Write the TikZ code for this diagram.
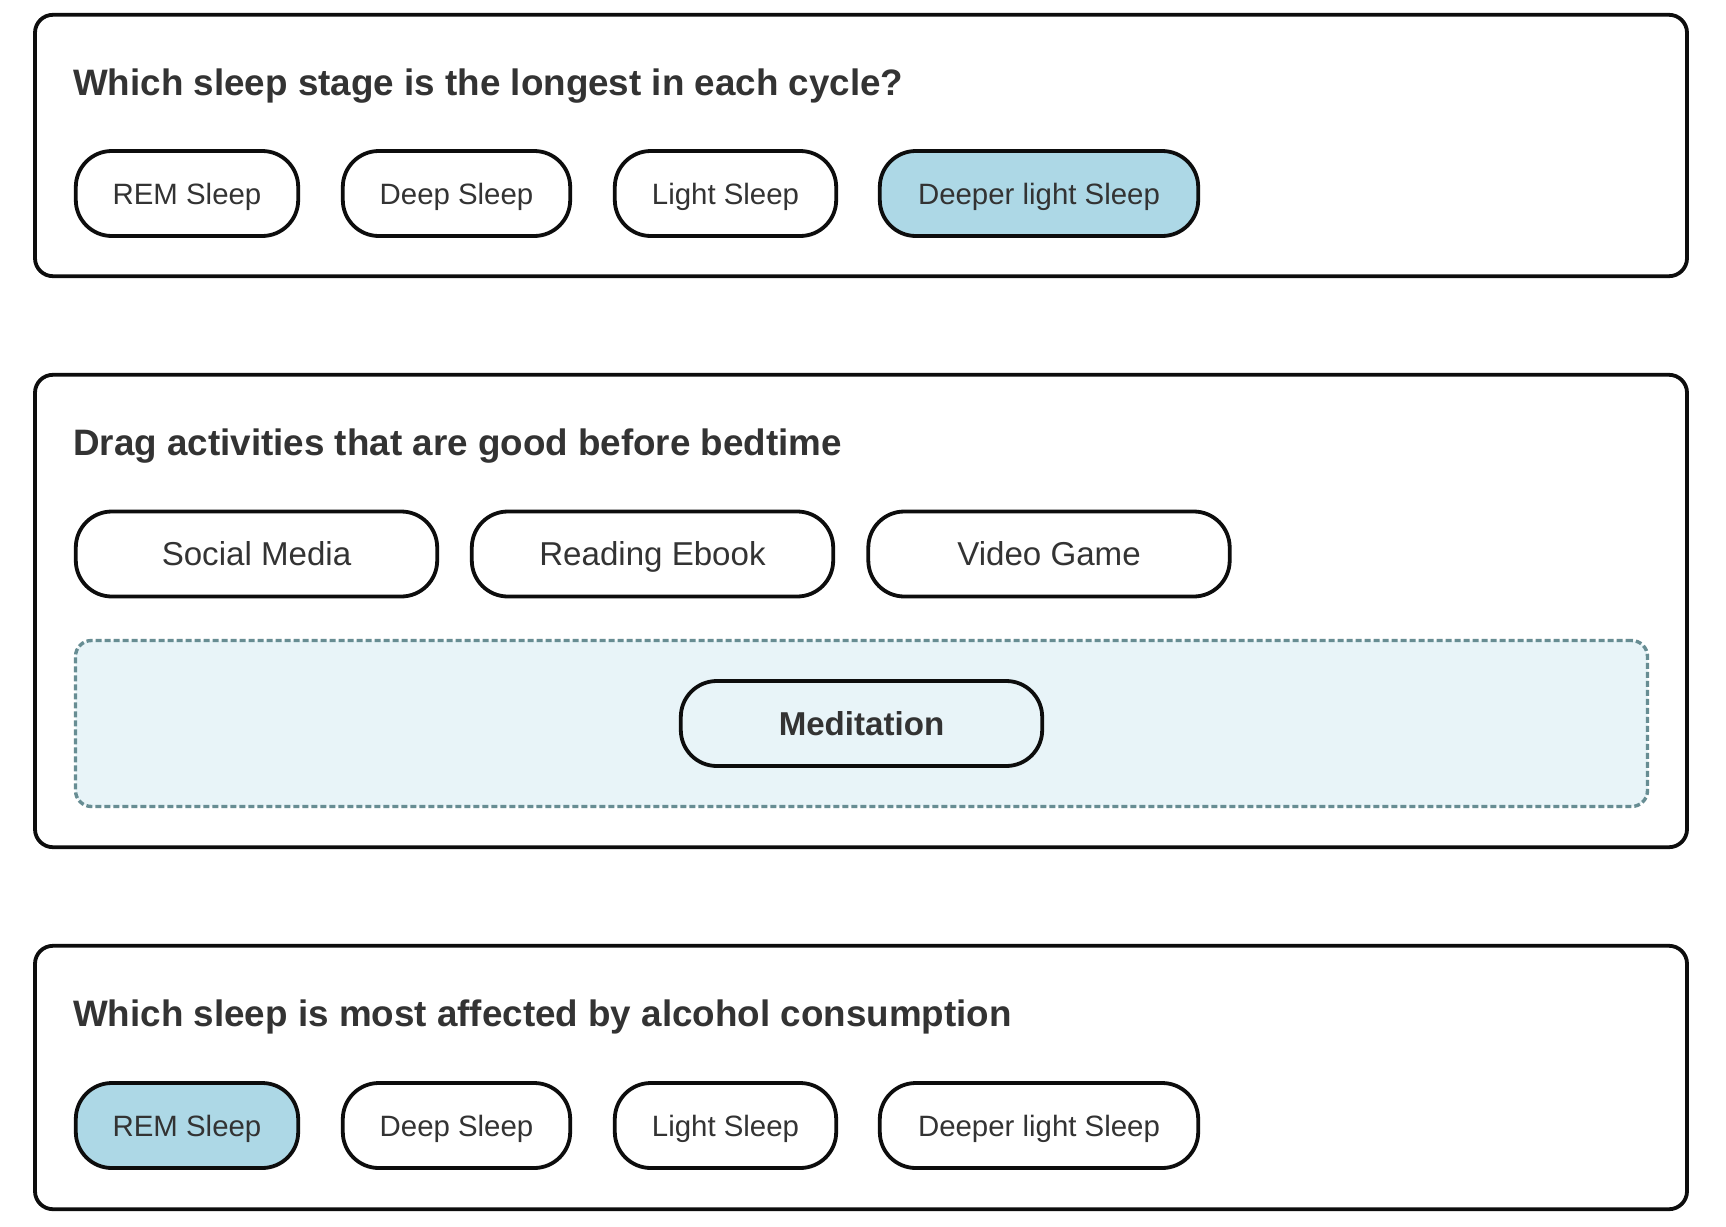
\documentclass[tikz,border=0pt]{standalone}
\usepackage{fontspec}
\setmainfont{Liberation Sans}
\usetikzlibrary{positioning,calc}
\definecolor{testo}{HTML}{333333}
\definecolor{selez}{HTML}{ADD8E6}
\definecolor{zona}{HTML}{E8F4F8}
\definecolor{bordozona}{HTML}{678D93}

\begin{document}
\begin{tikzpicture}[x=1pt,y=-1pt]
    % Stili
    \tikzset{
        card/.style={rectangle, draw=black!95, line width=3.8pt, rounded corners=18pt, minimum width=1652pt, inner sep=0pt},
        question/.style={anchor=base west, inner sep=0pt, text=testo, font=\fontsize{36.8}{44}\selectfont\bfseries},
        option/.style={rectangle, draw=black!95, line width=3.8pt, rounded corners=36pt, minimum height=85pt, inner sep=0pt, text=testo, text height=21pt, text depth=0pt, font=\fontsize{29.4}{35}\selectfont},
        activity/.style={option, minimum width=361.4pt, text height=23.7pt, font=\fontsize{33.1}{40}\selectfont},
        chosen/.style={fill=selez},
        dropzone/.style={rectangle, draw=bordozona, fill=zona, line width=3.4pt, dash pattern=on 6pt off 3pt, rounded corners=16pt, minimum width=1572pt, minimum height=166pt}
    }

    % Sfondo
    \fill[white] (0,0) rectangle (1726,1226);
    \useasboundingbox (0,0) rectangle (1726,1226);

    % Domanda 1
    \node[card, minimum height=261.4pt] (card1) at (861,145.5) {};
    \node[question] (q1) at (73,95) {Which sleep stage is the longest in each cycle?};
    \node[option, minimum width=222.4pt] (rem1) at (187,193.5) {REM Sleep};
    \node[option, minimum width=227.4pt] (deep1) at (456.5,193.5) {Deep Sleep};
    \node[option, minimum width=221.4pt] (light1) at (725.5,193.5) {Light Sleep};
    \node[option, chosen, minimum width=318.4pt] (deeper1) at (1039,193.5) {Deeper light Sleep};

    % Domanda 2 (drag and drop)
    \node[card, minimum height=472.4pt] (card2) at (861,611) {};
    \node[question] (q2) at (73,455) {Drag activities that are good before bedtime};
    \node[activity] (social) at (256.5,554) {Social Media};
    \node[activity] (reading) at (652.5,554) {Reading Ebook};
    \node[activity] (video) at (1049,554) {Video Game};
    \node[dropzone] (drop) at (861.5,723.5) {};
    \node[activity, font=\fontsize{33.1}{40}\selectfont\bfseries] (medit) at (drop.center) {Meditation};

    % Domanda 3
    \node[card, minimum height=263.4pt] (card3) at (861,1077.5) {};
    \node[question] (q3) at (73,1026) {Which sleep is most affected by alcohol consumption};
    \node[option, chosen, minimum width=222.4pt] (rem3) at (187,1125.5) {REM Sleep};
    \node[option, minimum width=227.4pt] (deep3) at (456.5,1125.5) {Deep Sleep};
    \node[option, minimum width=221.4pt] (light3) at (725.5,1125.5) {Light Sleep};
    \node[option, minimum width=318.4pt] (deeper3) at (1039,1125.5) {Deeper light Sleep};

\end{tikzpicture}
\end{document}
